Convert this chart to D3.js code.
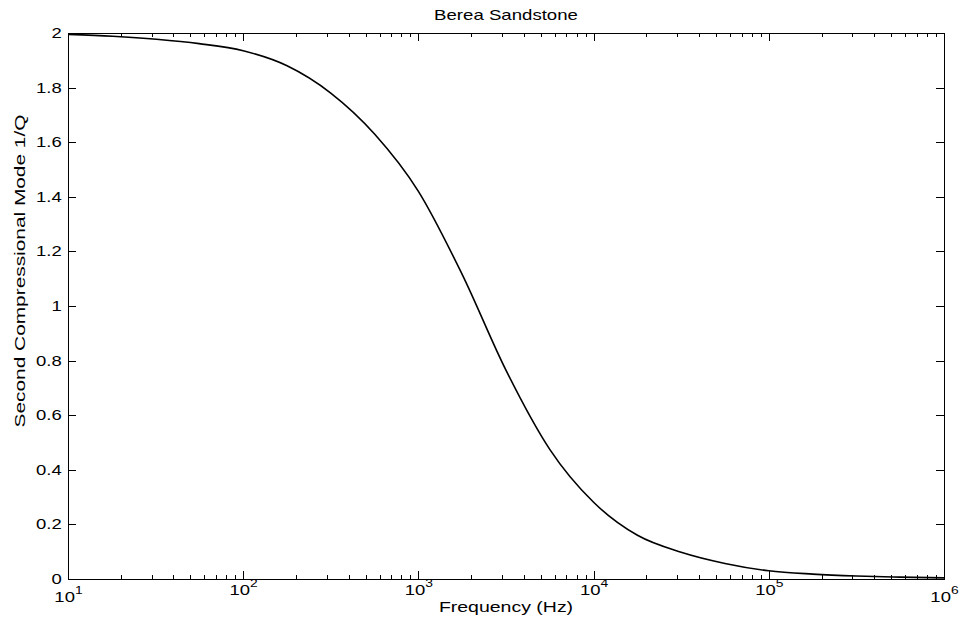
<!DOCTYPE html>
<html>
<head>
<meta charset="utf-8">
<script src="https://cdn.jsdelivr.net/npm/d3@7"></script>
<style>
  body { margin: 0; background: #fff; }
  text { font-family: "Liberation Sans", Arial, Helvetica, sans-serif; fill: #000; }
  .axis path, .axis line { stroke: #000; shape-rendering: crispEdges; }
</style>
</head>
<body>
<div id="chart"></div>
<script>
// curve: frequency (Hz) and 1/Q
var freq = [10, 18, 32, 56, 100, 178, 316, 562, 1000, 1780, 3160, 5620, 10000, 17800, 31600, 56200, 100000, 178000, 316000, 562000, 1000000];
var invQ = [1.995, 1.988, 1.977, 1.961, 1.935, 1.88, 1.78, 1.63, 1.42, 1.115, 0.765, 0.475, 0.281, 0.16, 0.098, 0.057, 0.03, 0.018, 0.011, 0.007, 0.004];

// ticks
var xTicks = [10, 100, 1000, 10000, 100000, 1000000];
var xTickExp = ["1", "2", "3", "4", "5", "6"];
var yTicks = [0, 0.2, 0.4, 0.6, 0.8, 1, 1.2, 1.4, 1.6, 1.8, 2];
var yTickLabels = ["0", "0.2", "0.4", "0.6", "0.8", "1", "1.2", "1.4", "1.6", "1.8", "2"];

var titleText = "Berea Sandstone";
var xLabel = "Frequency (Hz)";
var yLabel = "Second Compressional Mode 1/Q";

var svg = d3.select("#chart").append("svg")
  .attr("width", 962)
  .attr("height", 631);

var margin = { top: 33, right: 18, bottom: 52, left: 68 };
var width = 962 - margin.left - margin.right;
var height = 631 - margin.top - margin.bottom;
var sx = 1.32; // text in the picture is wider than normal

var x = d3.scaleLog().domain([10, 1000000]).range([0, width]);
var y = d3.scaleLinear().domain([0, 2]).range([height, 0]);

var g = svg.append("g")
  .attr("transform", "translate(" + margin.left + "," + margin.top + ")");

// minor ticks for the log axis
var minorTicks = [];
xTicks.slice(0, -1).forEach(function (d) {
  for (var k = 2; k <= 9; k++) minorTicks.push(d * k);
});

// bottom axis
var xAxis = g.append("g")
  .attr("class", "axis")
  .attr("transform", "translate(0," + height + ")")
  .call(d3.axisBottom(x).tickValues(xTicks).tickSize(-8).tickSizeOuter(0).tickPadding(6).tickFormat(""));

xAxis.selectAll(".tick text").each(function (d, i) {
  var t = d3.select(this);
  t.attr("font-size", 14)
    .attr("transform", "scale(" + sx + ",1)")
    .text("10");
  if (i === 0 || i === xTicks.length - 1) t.attr("y", 13);
  t.append("tspan")
    .attr("dy", -8)
    .attr("font-size", 10.5)
    .text(xTickExp[i]);
});

g.append("g")
  .attr("class", "axis")
  .attr("transform", "translate(0," + height + ")")
  .call(d3.axisBottom(x).tickValues(minorTicks).tickSize(-4).tickSizeOuter(0).tickFormat(""))
  .select(".domain").remove();

// top axis
g.append("g")
  .attr("class", "axis")
  .call(d3.axisTop(x).tickValues(xTicks).tickSize(-8).tickSizeOuter(0).tickFormat(""));
g.append("g")
  .attr("class", "axis")
  .call(d3.axisTop(x).tickValues(minorTicks).tickSize(-4).tickSizeOuter(0).tickFormat(""))
  .select(".domain").remove();

// left axis
var yAxis = g.append("g")
  .attr("class", "axis")
  .call(d3.axisLeft(y).tickValues(yTicks).tickSize(-8).tickSizeOuter(0).tickPadding(4.8)
    .tickFormat(function (d, i) { return yTickLabels[i]; }));
yAxis.selectAll(".tick text")
  .attr("font-size", 14)
  .attr("transform", "scale(" + sx + ",1)");

// right axis
g.append("g")
  .attr("class", "axis")
  .attr("transform", "translate(" + width + ",0)")
  .call(d3.axisRight(y).tickValues(yTicks).tickSize(-8).tickSizeOuter(0).tickFormat(""));

// curve
var line = d3.line()
  .x(function (d, i) { return x(freq[i]); })
  .y(function (d) { return y(d); })
  .curve(d3.curveMonotoneX);

g.append("path")
  .datum(invQ)
  .attr("fill", "none")
  .attr("stroke", "#000")
  .attr("stroke-width", 1.6)
  .attr("d", line);

// title and axis labels
svg.append("text")
  .attr("transform", "translate(" + (margin.left + width / 2) + ",20) scale(1.33,1)")
  .attr("text-anchor", "middle")
  .attr("font-size", 14)
  .text(titleText);

svg.append("text")
  .attr("transform", "translate(" + (margin.left + width / 2) + ",612) scale(1.3,1)")
  .attr("text-anchor", "middle")
  .attr("font-size", 15)
  .text(xLabel);

svg.append("text")
  .attr("transform", "translate(25,271) rotate(-90) scale(1.49,1)")
  .attr("text-anchor", "middle")
  .attr("font-size", 14)
  .text(yLabel);
</script>
</body>
</html>
